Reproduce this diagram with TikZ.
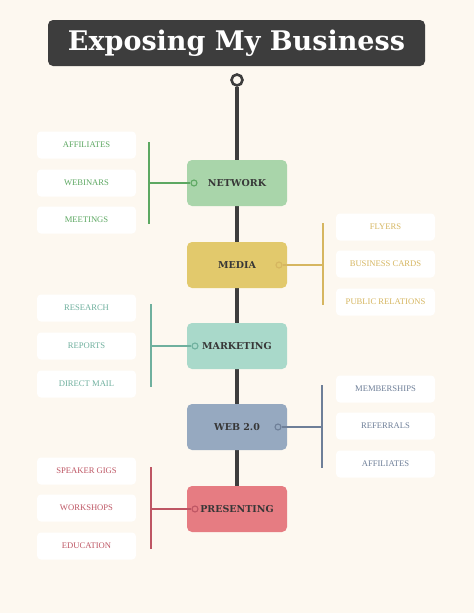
\documentclass[tikz,border=0pt]{standalone}
\usepackage{fontspec}
\setmainfont{DejaVu Serif}
\newfontfamily\subfont{Liberation Serif}
\usetikzlibrary{arrows}
\pgfdeclarelayer{background}
\pgfsetlayers{background,main}

\definecolor{paper}{HTML}{FDF8F0}
\definecolor{ink}{HTML}{3D3D3D}
\definecolor{netc}{HTML}{A9D5AA}
\definecolor{netl}{HTML}{5DA862}
\definecolor{medc}{HTML}{E2C96C}
\definecolor{medl}{HTML}{D6B660}
\definecolor{mktc}{HTML}{A9D9CA}
\definecolor{mktl}{HTML}{6FB09E}
\definecolor{webc}{HTML}{96A9C0}
\definecolor{webl}{HTML}{6E7F98}
\definecolor{prec}{HTML}{E67C82}
\definecolor{prel}{HTML}{BE5664}

\begin{document}
\begin{tikzpicture}[x=1pt,y=-1pt,
  main/.style={draw=none,rounded corners=5pt,minimum width=100pt,minimum height=46pt,
    font=\bfseries\fontsize{9.5}{11}\selectfont,text=ink!90!black},
  sub/.style={fill=white,rounded corners=4pt,minimum width=99pt,minimum height=27pt,
    font=\subfont\fontsize{8.6}{10}\selectfont},
  dot/.style={circle,inner sep=0pt,minimum size=6pt,line width=1.1pt},
  bar/.style={line width=1.6pt}]
\useasboundingbox (0,0) rectangle (474,613);

% title
\node[fill=ink,rounded corners=5pt,minimum width=377pt,minimum height=46pt,
  text=white,font=\bfseries\fontsize{27}{30}\selectfont] (T) at (236.5,43) {Exposing My Business};
\node[circle,draw=ink,fill=paper,line width=2.6pt,minimum size=11pt,inner sep=0pt] (top) at (237,80) {};

% main boxes
\node[main,fill=netc] (A1) at (237,183) {NETWORK};
\node[main,fill=medc] (A2) at (237,265) {MEDIA};
\node[main,fill=mktc] (A3) at (237,346) {MARKETING};
\node[main,fill=webc] (A4) at (237,427) {WEB 2.0};
\node[main,fill=prec] (A5) at (237,509) {PRESENTING};

\begin{pgfonlayer}{background}
\fill[paper] (0,0) rectangle (474,613);
\draw[ink,line width=4pt] (top.south) -- (A5.north);
\end{pgfonlayer}

% network
\node[dot,draw=netl] (D1) at (194,183) {};
\coordinate (U1) at (149,142);
\coordinate (L1) at (149,224);
\draw[netl,bar] (U1) -- (L1);
\draw[netl,bar] (D1.west) -- (D1.west -| U1);
\node[sub,text=netl] (B11) at (86.5,145) {AFFILIATES};
\node[sub,text=netl] (B12) at (86.5,183) {WEBINARS};
\node[sub,text=netl] (B13) at (86.5,220) {MEETINGS};

% media
\node[dot,draw=medl] (D2) at (279,265) {};
\coordinate (U2) at (323,223);
\coordinate (L2) at (323,305);
\draw[medl,bar] (U2) -- (L2);
\draw[medl,bar] (D2.east) -- (D2.east -| U2);
\node[sub,text=medl] (B21) at (385.5,227) {FLYERS};
\node[sub,text=medl] (B22) at (385.5,264) {BUSINESS CARDS};
\node[sub,text=medl] (B23) at (385.5,302) {PUBLIC RELATIONS};

% marketing
\node[dot,draw=mktl] (D3) at (195,346) {};
\coordinate (U3) at (151,304);
\coordinate (L3) at (151,387);
\draw[mktl,bar] (U3) -- (L3);
\draw[mktl,bar] (D3.west) -- (D3.west -| U3);
\node[sub,text=mktl] (B31) at (86.5,308) {RESEARCH};
\node[sub,text=mktl] (B32) at (86.5,346) {REPORTS};
\node[sub,text=mktl] (B33) at (86.5,384) {DIRECT MAIL};

% web 2.0
\node[dot,draw=webl] (D4) at (278,427) {};
\coordinate (U4) at (322,385);
\coordinate (L4) at (322,468);
\draw[webl,bar] (U4) -- (L4);
\draw[webl,bar] (D4.east) -- (D4.east -| U4);
\node[sub,text=webl] (B41) at (385.5,389) {MEMBERSHIPS};
\node[sub,text=webl] (B42) at (385.5,426) {REFERRALS};
\node[sub,text=webl] (B43) at (385.5,464) {AFFILIATES};

% presenting
\node[dot,draw=prel] (D5) at (195,509) {};
\coordinate (U5) at (151,467);
\coordinate (L5) at (151,549);
\draw[prel,bar] (U5) -- (L5);
\draw[prel,bar] (D5.west) -- (D5.west -| U5);
\node[sub,text=prel] (B51) at (86.5,471) {SPEAKER GIGS};
\node[sub,text=prel] (B52) at (86.5,508) {WORKSHOPS};
\node[sub,text=prel] (B53) at (86.5,546) {EDUCATION};
\end{tikzpicture}
\end{document}
